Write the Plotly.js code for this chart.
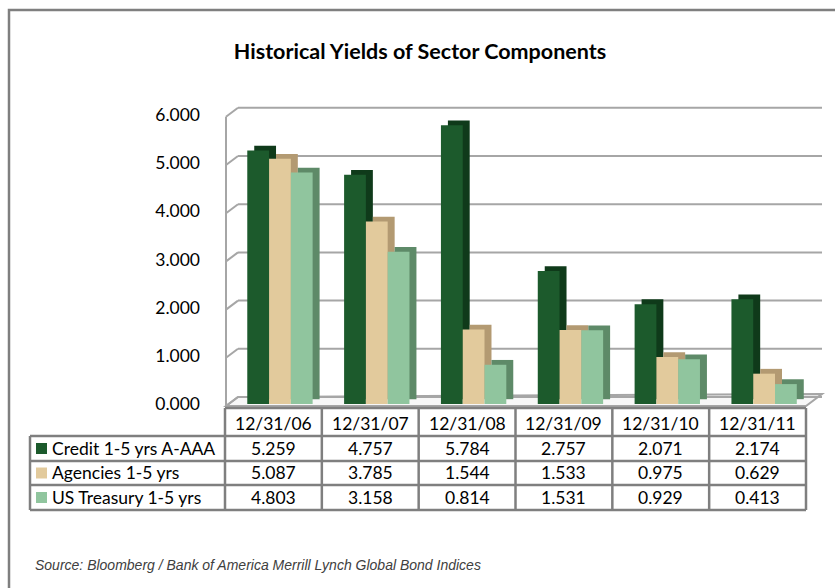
<!DOCTYPE html>
<html>
<head>
<meta charset="utf-8">
<script src="https://cdn.plot.ly/plotly-3.0.1.min.js"></script>
<style>html,body{margin:0;padding:0;background:#fff;}#chart{width:835px;height:588px;}</style>
</head>
<body>
<div id="chart"></div>
<script>
// ---- data ----
const categories = ["12/31/06", "12/31/07", "12/31/08", "12/31/09", "12/31/10", "12/31/11"];
const seriesNames = ["Credit 1-5 yrs A-AAA", "Agencies 1-5 yrs", "US Treasury 1-5 yrs"];
const credit   = [5.259, 4.757, 5.784, 2.757, 2.071, 2.174];
const agencies = [5.087, 3.785, 1.544, 1.533, 0.975, 0.629];
const treasury = [4.803, 3.158, 0.814, 1.531, 0.929, 0.413];
const tickValues = [0, 1, 2, 3, 4, 5, 6];

// ---- styling ----
const W = 835, H = 588;
const px = x => x / W;
const py = y => 1 - y / H;
const FONT = "Lato, 'Open Sans', sans-serif";
const frontColors = ["#1c5a2c", "#e2ca9c", "#90c59e"];
const sideColors  = ["#0f3a1a", "#b39a72", "#5e8a68"];
const series = [credit, agencies, treasury];

const xd0 = px(225), xd1 = px(806);
const yZeroPx = 404, unitPx = 48.2;
const yd0 = py(yZeroPx), yd1 = py(yZeroPx - 6 * unitPx);

const barW = 0.225;
const offsets = [-0.27, -0.045, 0.18];
const dx = 0.072, dy = 0.1;

const traces = [];
series.forEach((vals, i) => {
  traces.push({
    type: "bar", x: categories, y: vals, base: dy, width: barW, offset: offsets[i] + dx,
    marker: {color: sideColors[i], line: {width: 0}}, showlegend: false, hoverinfo: "skip"
  });
  traces.push({
    type: "bar", x: categories, y: vals, width: barW, offset: offsets[i], name: seriesNames[i],
    marker: {color: frontColors[i], line: {width: 0}}, showlegend: false, hoverinfo: "skip"
  });
});

// ---- wall / floor (pseudo 3D) ----
const shapes = [];
const frontY = v => 406 - v * unitPx;
const depthX = 12, depthY = 9;
const wallL = 226, wallR = 806;
shapes.push({type: "path", xref: "paper", yref: "paper", layer: "below",
  path: `M ${px(wallL)},${py(frontY(0))} L ${px(wallR)},${py(frontY(0))} L ${px(wallR+16)},${py(frontY(0)-depthY-3)} L ${px(wallL+depthX)},${py(frontY(0)-depthY)} Z`,
  fillcolor: "#f7f7f7", line: {color: "#a6a6a6", width: 2}});
tickValues.forEach(v => {
  shapes.push({type: "line", xref: "paper", yref: "paper", layer: "below",
    x0: px(wallL + depthX), x1: px(wallR + 16), y0: py(frontY(v) - depthY), y1: py(frontY(v) - depthY),
    line: {color: "#a6a6a6", width: 2}});
  shapes.push({type: "line", xref: "paper", yref: "paper", layer: "below",
    x0: px(wallL), x1: px(wallL + depthX), y0: py(frontY(v)), y1: py(frontY(v) - depthY),
    line: {color: "#a6a6a6", width: 2}});
});
shapes.push({type: "line", xref: "paper", yref: "paper", layer: "below",
  x0: px(wallL), x1: px(wallL), y0: py(frontY(0)), y1: py(frontY(6)),
  line: {color: "#a6a6a6", width: 2}});

// ---- table ----
const tableColor = "#7f7f7f";
const colEdges = [];
for (let i = 0; i <= categories.length; i++) colEdges.push(xd0 + i * (xd1 - xd0) / categories.length);
const rowEdges = [408, 436, 461, 485, 510];
const tableLeft = 30;
const annotations = [];
shapes.push({type: "line", xref: "paper", yref: "paper", x0: colEdges[0], x1: colEdges[colEdges.length-1],
  y0: py(rowEdges[0]), y1: py(rowEdges[0]), line: {color: tableColor, width: 2.5}});
for (let r = 1; r < rowEdges.length; r++) {
  shapes.push({type: "line", xref: "paper", yref: "paper", x0: px(tableLeft), x1: colEdges[colEdges.length-1],
    y0: py(rowEdges[r]), y1: py(rowEdges[r]), line: {color: tableColor, width: 2.5}});
}
shapes.push({type: "line", xref: "paper", yref: "paper", x0: px(tableLeft), x1: px(tableLeft),
  y0: py(rowEdges[1]), y1: py(rowEdges[rowEdges.length-1]), line: {color: tableColor, width: 2.5}});
colEdges.forEach(xe => {
  shapes.push({type: "line", xref: "paper", yref: "paper", x0: xe, x1: xe,
    y0: py(rowEdges[0]), y1: py(rowEdges[rowEdges.length-1]), line: {color: tableColor, width: 2.5}});
});
const cellFont = {family: FONT, size: 17.5, color: "#000"};
categories.forEach((c, j) => {
  const cx = (colEdges[j] + colEdges[j+1]) / 2;
  annotations.push({xref: "paper", yref: "paper", x: cx, y: py((rowEdges[0] + rowEdges[1]) / 2 + 1),
    text: c, showarrow: false, xanchor: "center", yanchor: "middle", font: cellFont});
  series.forEach((vals, i) => {
    annotations.push({xref: "paper", yref: "paper", x: cx, y: py((rowEdges[i+1] + rowEdges[i+2]) / 2),
      text: vals[j].toFixed(3), showarrow: false, xanchor: "center", yanchor: "middle", font: cellFont});
  });
});
seriesNames.forEach((n, i) => {
  const cy = (rowEdges[i+1] + rowEdges[i+2]) / 2;
  shapes.push({type: "rect", xref: "paper", yref: "paper", x0: px(36), x1: px(47), y0: py(cy - 5.5), y1: py(cy + 5.5),
    fillcolor: frontColors[i], line: {width: 0}});
  annotations.push({xref: "paper", yref: "paper", x: px(50), y: py(cy), text: n, showarrow: false,
    xanchor: "left", yanchor: "middle", font: cellFont});
});
// source
annotations.push({xref: "paper", yref: "paper", x: px(33), y: py(565),
  text: "<i>Source: Bloomberg / Bank of America Merrill Lynch Global Bond Indices</i>",
  showarrow: false, xanchor: "left", yanchor: "middle",
  font: {family: "'Liberation Sans', Arial, sans-serif", size: 14, color: "#404040"}});
// outer frame
shapes.push({type: "rect", xref: "paper", yref: "paper", x0: px(9), x1: px(845), y0: py(10), y1: py(600),
  line: {color: "#7f7f7f", width: 2.5}, fillcolor: "rgba(0,0,0,0)"});

const layout = {
  width: W, height: H,
  margin: {l: 0, r: 0, t: 0, b: 0},
  paper_bgcolor: "#fff", plot_bgcolor: "rgba(0,0,0,0)",
  barmode: "overlay",
  title: {text: "<b>Historical Yields of Sector Components</b>", x: px(420), xanchor: "center",
    y: py(51), yanchor: "middle", font: {family: FONT, size: 21.5, color: "#000"}},
  xaxis: {domain: [xd0, xd1], type: "category", showticklabels: false, showgrid: false,
    zeroline: false, showline: false, ticks: "", fixedrange: true},
  yaxis: {domain: [yd0, yd1], range: [0, 6], tickvals: tickValues, tickformat: ".3f",
    showgrid: false, zeroline: false, showline: false, ticks: "", ticklabelstandoff: 24,
    tickfont: {family: FONT, size: 17.5, color: "#000"}, fixedrange: true},
  shapes: shapes,
  annotations: annotations,
  showlegend: false
};

Plotly.newPlot("chart", traces, layout, {displayModeBar: false, staticPlot: true});
</script>
</body>
</html>
